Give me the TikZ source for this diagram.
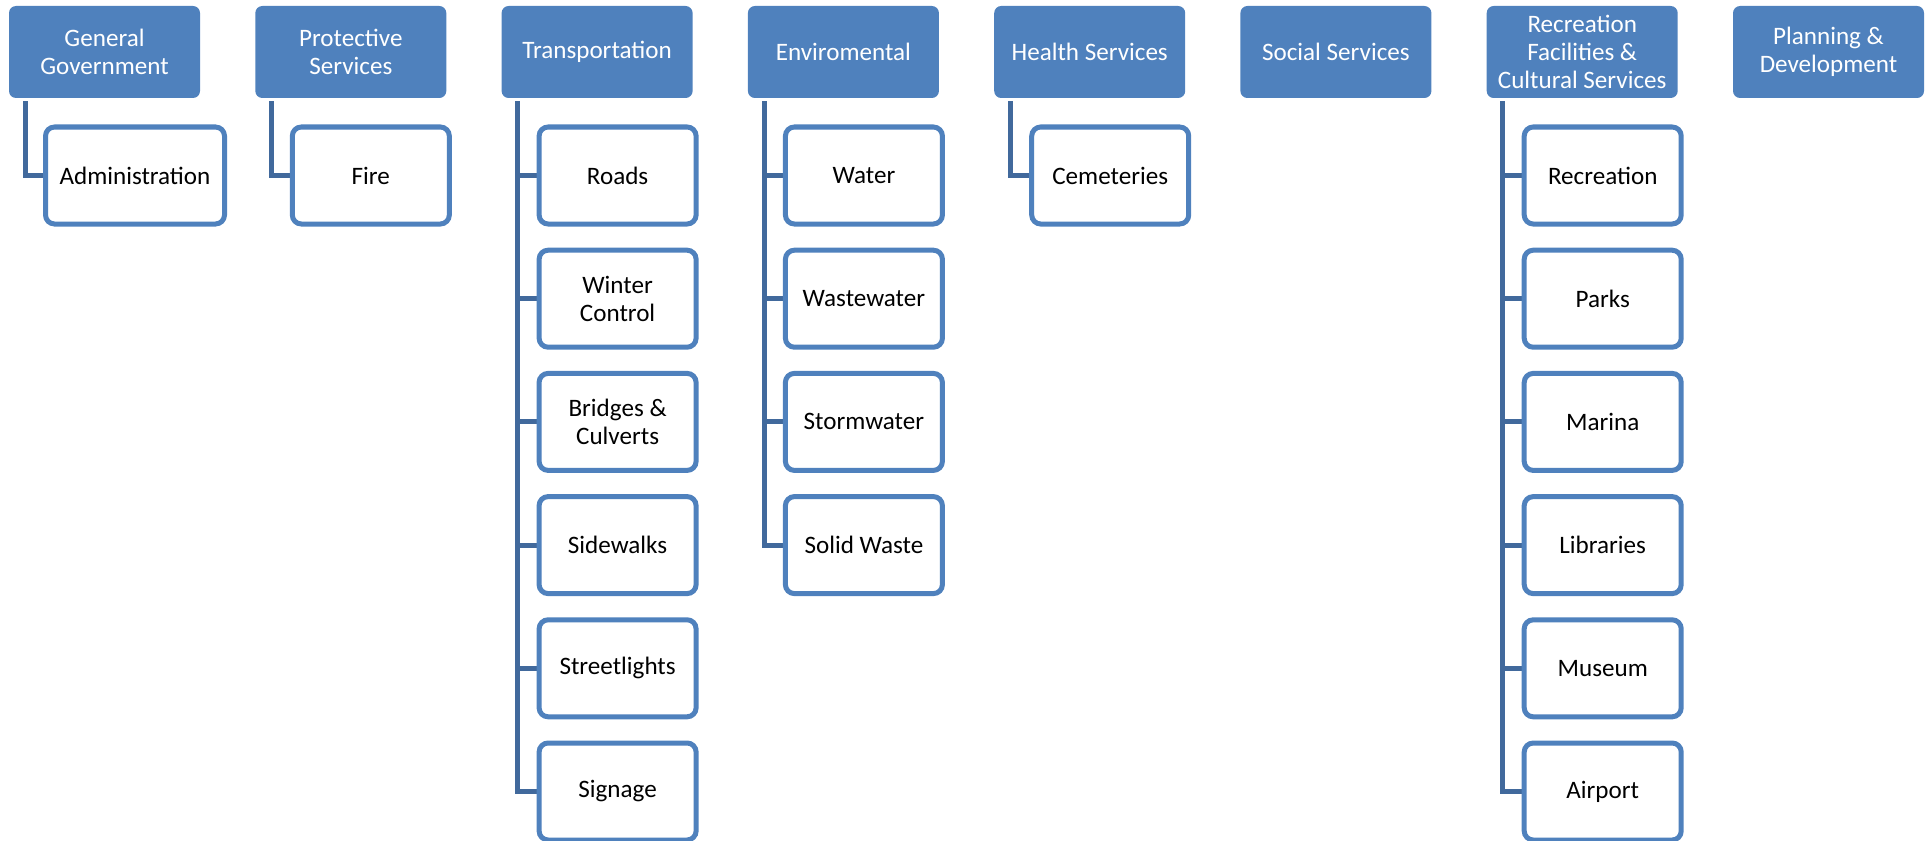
\documentclass[tikz,border=0pt]{standalone}
\usepackage{fontspec}
\setmainfont{Carlito}
\usetikzlibrary{backgrounds}
\definecolor{acc}{HTML}{4F81BD}
\definecolor{conn}{HTML}{41699C}
\begin{document}
\begin{tikzpicture}[x=0.5pt,y=-0.5pt,
  top/.style={fill=acc, draw=none, rounded corners=3.5pt, minimum width=95.5pt,
    minimum height=46pt, text=white, font=\fontsize{12.55}{13.8}\selectfont,
    align=center, inner sep=0pt},
  child/.style={fill=white, draw=acc, line width=2.5pt, rounded corners=4.5pt,
    minimum width=78.5pt, minimum height=48.5pt, text=black,
    font=\fontsize{12.55}{13.8}\selectfont, align=center, inner sep=0pt},
  link/.style={draw=conn, line width=2.5pt}]
\useasboundingbox (0,0) rectangle (1931,840);
% top level
\node[top] (t1) at (104.5,52) {General\\Government};
\node[top] (t2) at (350.8,52) {Protective\\Services};
\node[top] (t3) at (597.1,52) {Transportation};
\node[top] (t4) at (843.4,52) {Enviromental};
\node[top] (t5) at (1089.7,52) {Health Services};
\node[top] (t6) at (1335.9,52) {Social Services};
\node[top] (t7) at (1582.2,52) {Recreation\\Facilities \&\\Cultural Services};
\node[top] (t8) at (1828.5,52) {Planning \&\\Development};
% children
\node[child, minimum width=89.5pt] (a1) at (135,175.5) {Administration};
\node[child] (f1) at (370.8,175.5) {Fire};
\node[child] (r1) at (617.6,175.5) {Roads};
\node[child] (r2) at (617.6,298.7) {Winter\\Control};
\node[child] (r3) at (617.6,421.9) {Bridges \&\\Culverts};
\node[child] (r4) at (617.6,545.1) {Sidewalks};
\node[child] (r5) at (617.6,668.3) {Streetlights};
\node[child] (r6) at (617.6,791.5) {Signage};
\node[child] (e1) at (863.9,175.5) {Water};
\node[child] (e2) at (863.9,298.7) {Wastewater};
\node[child] (e3) at (863.9,421.9) {Stormwater};
\node[child] (e4) at (863.9,545.1) {Solid Waste};
\node[child] (h1) at (1110.2,175.5) {Cemeteries};
\node[child] (p1) at (1602.7,175.5) {Recreation};
\node[child] (p2) at (1602.7,298.7) {Parks};
\node[child] (p3) at (1602.7,421.9) {Marina};
\node[child] (p4) at (1602.7,545.1) {Libraries};
\node[child] (p5) at (1602.7,668.3) {Museum};
\node[child] (p6) at (1602.7,791.5) {Airport};
% connectors
\begin{scope}[on background layer]
\draw[link] ([xshift=8.25pt,yshift=-1.5pt]t1.south west) |- (a1.west);
\draw[link] ([xshift=8.25pt,yshift=-1.5pt]t2.south west) |- (f1.west);
\foreach \c in {r1,r2,r3,r4,r5,r6}
  \draw[link] ([xshift=8.25pt,yshift=-1.5pt]t3.south west) |- (\c.west);
\foreach \c in {e1,e2,e3,e4}
  \draw[link] ([xshift=8.25pt,yshift=-1.5pt]t4.south west) |- (\c.west);
\draw[link] ([xshift=8.25pt,yshift=-1.5pt]t5.south west) |- (h1.west);
\foreach \c in {p1,p2,p3,p4,p5,p6}
  \draw[link] ([xshift=8.25pt,yshift=-1.5pt]t7.south west) |- (\c.west);
\end{scope}
\end{tikzpicture}
\end{document}
